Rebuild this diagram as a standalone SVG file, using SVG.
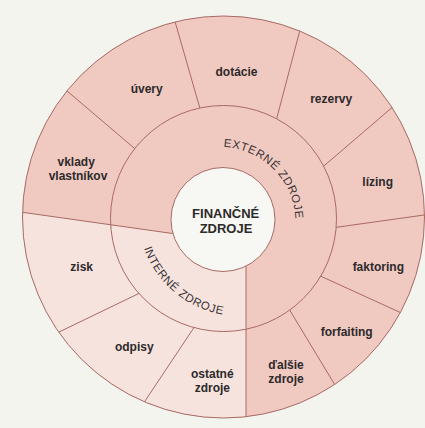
<svg xmlns="http://www.w3.org/2000/svg" width="425" height="428" viewBox="0 0 425 428">
  <style>
    .edge { stroke: #a86a64; stroke-width: 1; fill: none; }
    .lbl { font-family: "Liberation Sans", Arial, sans-serif; font-weight: bold; font-size: 12px; fill: #2d2a2a; text-anchor: middle; }
    .ctr { font-size: 13px; }
    .ring { font-family: "Liberation Sans", Arial, sans-serif; font-size: 11.5px; letter-spacing: 0.6px; fill: #3a3434; text-anchor: middle; }
    .ring.st { text-anchor: start; }
  </style>
  <defs>
    <clipPath id="outerClip"><circle cx="223.5" cy="217" r="201"/></clipPath>
    <clipPath id="annClip">
      <path clip-rule="evenodd" d="M424.5 217 A201 201 0 1 0 22.5 217 A201 201 0 1 0 424.5 217 Z M336.5 218.5 A113 113 0 1 0 110.5 218.5 A113 113 0 1 0 336.5 218.5 Z"/>
    </clipPath>
    <path id="extArc" d="M206.87 148.05 A75.6 75.6 0 0 1 294.45 235.63"/>
    <path id="intArc" d="M139.55 231.71 A102 102 0 0 0 240 316"/>
  </defs>

  <rect x="0" y="0" width="425" height="428" fill="#f4f4ef"/>

  <g id="background-rings">
    <circle cx="223.5" cy="217" r="201" fill="#f0c9c1"/>
    <path clip-path="url(#outerClip)" d="M0 209.1 L200 237.4 L246 237.4 L246 430 L0 430 Z" fill="#f7e3de"/>
  </g>

  <g id="connectors">
    <g clip-path="url(#annClip)">
      <line class="edge" x1="201" y1="112" x2="174" y2="18"/>
      <line class="edge" x1="275" y1="125" x2="301" y2="26"/>
      <line class="edge" x1="318" y1="171" x2="395" y2="105"/>
      <line class="edge" x1="327" y1="228.6" x2="430" y2="214.2"/>
      <line class="edge" x1="316" y1="274" x2="408" y2="316"/>
      <line class="edge" x1="287.5" y1="306.5" x2="338" y2="390"/>
      <line class="edge" x1="196" y1="324.5" x2="143" y2="404"/>
      <line class="edge" x1="145" y1="290.5" x2="57" y2="333"/>
      <line class="edge" x1="137" y1="150.5" x2="60" y2="85"/>
    </g>
    <g clip-path="url(#outerClip)">
      <line class="edge" x1="14.6" y1="211.2" x2="200" y2="237.4"/>
      <line class="edge" x1="246" y1="245" x2="246" y2="425"/>
    </g>
    <circle class="edge" cx="223.5" cy="218.5" r="113"/>
    <circle class="edge" cx="223.5" cy="217" r="201"/>
  </g>

  <g id="node-financne-zdroje">
    <circle cx="223" cy="219.5" r="52" fill="#f7f7f3" stroke="#a86a64" stroke-width="1"/>
    <text class="lbl ctr" x="225.7" y="217.5">FINANČNÉ</text>
    <text class="lbl ctr" x="226" y="233">ZDROJE</text>
  </g>

  <g id="node-externe-zdroje">
    <text class="ring st"><textPath href="#extArc" startOffset="16.6">EXTERNÉ</textPath></text>
    <text class="ring st"><textPath href="#extArc" startOffset="78.9">ZDROJE</textPath></text>
  </g>
  <g id="node-interne-zdroje">
    <text class="ring"><textPath href="#intArc" startOffset="50%">INTERNÉ ZDROJE</textPath></text>
  </g>

  <g id="node-dotacie"><text class="lbl" x="236.5" y="76">dotácie</text></g>
  <g id="node-uvery"><text class="lbl" x="146.7" y="93.3">úvery</text></g>
  <g id="node-rezervy"><text class="lbl" x="331.2" y="102.7">rezervy</text></g>
  <g id="node-lizing"><text class="lbl" x="377.7" y="186">lízing</text></g>
  <g id="node-faktoring"><text class="lbl" x="378.3" y="271">faktoring</text></g>
  <g id="node-forfaiting"><text class="lbl" x="346.7" y="336">forfaiting</text></g>
  <g id="node-dalsie-zdroje">
    <text class="lbl" x="286" y="368.5">ďalšie</text>
    <text class="lbl" x="286" y="383.3">zdroje</text>
  </g>
  <g id="node-ostatne-zdroje">
    <text class="lbl" x="212.3" y="377.7">ostatné</text>
    <text class="lbl" x="212.3" y="391.5">zdroje</text>
  </g>
  <g id="node-odpisy"><text class="lbl" x="134.3" y="351">odpisy</text></g>
  <g id="node-zisk"><text class="lbl" x="81.7" y="271">zisk</text></g>
  <g id="node-vklady-vlastnikov">
    <text class="lbl" x="76.2" y="165.7">vklady</text>
    <text class="lbl" x="78" y="180">vlastníkov</text>
  </g>
</svg>
